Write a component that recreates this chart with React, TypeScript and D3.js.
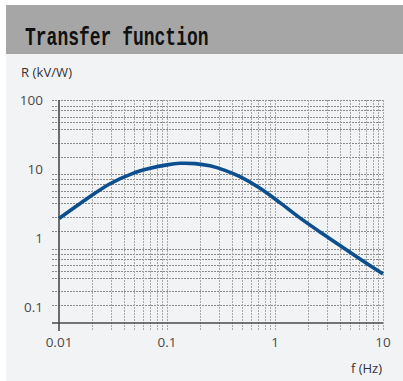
import React from "react";
import * as d3 from "d3";

// transfer function
const freq = [0.01, 0.0141, 0.0194, 0.0297, 0.0484, 0.0696, 0.1, 0.132, 0.182, 0.25, 0.344, 0.474, 0.727, 1.11, 1.7, 2.61, 4.0, 6.12, 10];
const resp = [1.94, 2.84, 4.03, 6.17, 8.71, 10.3, 11.56, 12.17, 12.05, 11.18, 9.62, 7.8, 5.31, 3.29, 1.98, 1.24, 0.791, 0.503, 0.306];

const xTicks = [0.01, 0.1, 1, 10];
const xTickLabels = ["0.01", "0.1", "1", "10"];
const yTicks = [100, 10, 1, 0.1];
const yTickLabels = ["100", "10", "1", "0.1"];

// horizontal grid of the original (it does not sit on the decades)
const hGrid = [100, 82.7, 72.4, 57.4, 48.6, 38.5, 24.2, 15, 8.5, 7.15, 6.05, 4.9, 4.0, 3.2, 2.06, 1.29, 0.7, 0.6, 0.5, 0.42, 0.34, 0.27, 0.175, 0.109];

const W = 403,
  H = 381;
const plot = { left: 59, right: 383, top: 100, bottom: 323 };

const App = () => {
  const x = d3.scaleLog().domain([0.01, 10]).range([plot.left, plot.right]);
  const y = d3.scaleLog().domain([0.06, 100]).range([plot.bottom, plot.top]);

  const vGrid = x.ticks().filter((t) => t > 0.01);

  const line = d3
    .line<number>()
    .x((d, i) => x(freq[i]))
    .y((d) => y(d))
    .curve(d3.curveCatmullRom);

  const sans = "'Open Sans', 'Liberation Sans', sans-serif";

  return (
    <svg width={W} height={H} style={{ position: "absolute", left: 0, top: 0 }}>
      <rect x={0} y={0} width={W} height={H} fill="#fff" />
      <rect x={6} y={5} width={W - 6} height={H - 5} fill="#f2f3f5" />
      <rect x={6} y={5} width={W - 6} height={49} fill="#a6a6a6" />
      <text
        transform="translate(25,45) scale(1,1.45)"
        fontFamily="'Liberation Mono', 'DejaVu Sans Mono', monospace"
        fontWeight="bold"
        fontSize={18}
        fill="#111"
      >
        Transfer function
      </text>
      <text x={21} y={77} fontFamily={sans} fontSize={13} fill="#333" textLength={51}>
        R (kV/W)
      </text>

      {/* grid */}
      <g fill="none" strokeWidth={1}>
        {hGrid.map((v, i) => (
          <line
            key={"h" + i}
            x1={52}
            x2={plot.right}
            y1={Math.round(y(v)) + 0.5}
            y2={Math.round(y(v)) + 0.5}
            stroke="#8a8a8a"
            strokeDasharray="2,1"
          />
        ))}
        {vGrid.map((v, i) => (
          <line
            key={"v" + i}
            x1={Math.round(x(v)) + 0.5}
            x2={Math.round(x(v)) + 0.5}
            y1={plot.top}
            y2={331}
            stroke="#a8a8a8"
            strokeDasharray="2,1"
          />
        ))}
      </g>

      {/* axes */}
      <line x1={52} x2={plot.right} y1={plot.bottom} y2={plot.bottom} stroke="#4a4a4a" strokeWidth={1.6} />
      <line x1={plot.left} x2={plot.left} y1={plot.top} y2={331} stroke="#4a4a4a" strokeWidth={1.6} />

      <path d={line(resp) || ""} fill="none" stroke="#0b4f8f" strokeWidth={3.6} strokeLinecap="butt" />

      {/* tick labels */}
      <g fontFamily={sans} fontSize={13.5} fill="#4a4a4a">
        {yTicks.map((t, i) => (
          <text key={"yt" + i} x={43} y={y(t)} dy="0.35em" textAnchor="end">
            {yTickLabels[i]}
          </text>
        ))}
        {xTicks.map((t, i) => (
          <text key={"xt" + i} x={x(t)} y={347} textAnchor="middle">
            {xTickLabels[i]}
          </text>
        ))}
        <text x={382} y={373} textAnchor="end" fill="#333" fontSize={13}>
          f (Hz)
        </text>
      </g>
    </svg>
  );
};

export default App;
